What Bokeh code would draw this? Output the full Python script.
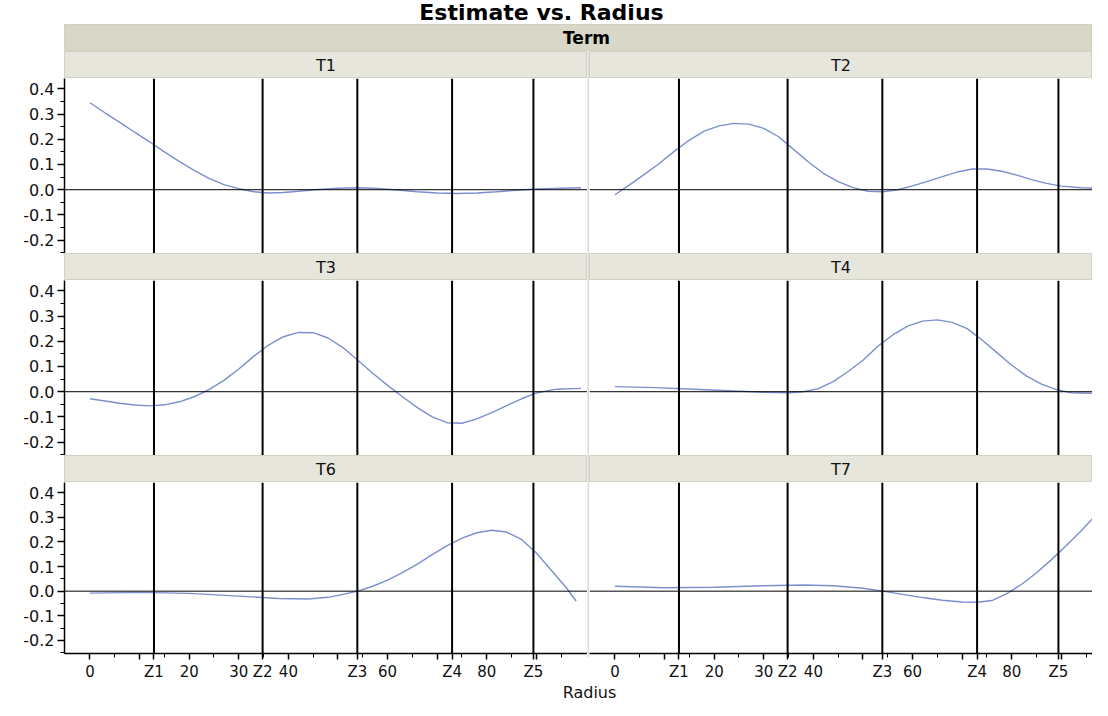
from bokeh.plotting import figure
from bokeh.models import Range1d, Span, FixedTicker, PrintfTickFormatter
from bokeh.layouts import column, row
from bokeh.core.properties import value
from bokeh.embed import file_html
from bokeh.resources import INLINE

TITLE = "Estimate vs. Radius"
GROUP = "Term"
X_LABEL = "Radius"

Z_NAMES = ["Z1", "Z2", "Z3", "Z4", "Z5"]
Z_POS = [12.9, 34.8, 53.9, 73.0, 89.4]

X_MAJOR = [0, 10, 20, 30, 40, 50, 60, 70, 80, 90]
X_MAJOR_LABELS = ["0", "", "20", "30", "40", "", "60", "", "80", ""]
X_MINOR = [5, 15, 25, 35, 45, 55, 65, 75, 85, 95]
Y_TICKS = [-0.2, -0.1, 0.0, 0.1, 0.2, 0.3, 0.4]
Y_MINOR = [-0.25, -0.15, -0.05, 0.05, 0.15, 0.25, 0.35]

T1_X = [0, 3, 6, 9, 12, 15, 18, 21, 24, 27, 30, 33, 36, 39, 42, 46, 50, 54, 58, 62, 66, 70,
        74, 78, 82, 86, 90, 95, 99]
T1_Y = [0.345, 0.305, 0.267, 0.228, 0.19, 0.15, 0.112, 0.077, 0.045, 0.02, 0.004, -0.008,
        -0.013, -0.011, -0.006, 0.001, 0.006, 0.008, 0.005, -0.001, -0.008, -0.013, -0.015,
        -0.013, -0.008, -0.002, 0.003, 0.006, 0.008]

T2_X = [0, 3, 6, 9, 12, 15, 18, 21, 24, 27, 30, 33, 36, 39, 42, 45, 48, 51, 54, 57, 60, 63,
        66, 69, 72, 75, 78, 81, 84, 87, 90, 94, 99]
T2_Y = [-0.02, 0.02, 0.062, 0.105, 0.153, 0.197, 0.232, 0.253, 0.263, 0.26, 0.243, 0.21,
        0.16, 0.11, 0.065, 0.032, 0.008, -0.006, -0.008, 0.0, 0.015, 0.033, 0.052, 0.07,
        0.082, 0.082, 0.073, 0.058, 0.04, 0.025, 0.014, 0.008, 0.005]

T3_X = [0, 3, 6, 9, 12, 15, 18, 21, 24, 27, 30, 33, 36, 39, 42, 45, 48, 51, 54, 57, 60, 63,
        66, 69, 72, 75, 78, 81, 84, 87, 90, 94, 99]
T3_Y = [-0.028, -0.037, -0.046, -0.053, -0.056, -0.052, -0.04, -0.02, 0.008, 0.045, 0.09,
        0.14, 0.185, 0.218, 0.235, 0.234, 0.213, 0.175, 0.125, 0.073, 0.025, -0.02, -0.063,
        -0.1, -0.123, -0.125, -0.108, -0.083, -0.055, -0.028, -0.005, 0.01, 0.013]

T4_X = [0, 8, 16, 24, 30, 35, 38, 41, 44, 47, 50, 53, 56, 59, 62, 65, 68, 71, 74, 77, 80, 83,
        86, 89, 92, 96, 99]
T4_Y = [0.02, 0.016, 0.01, 0.003, -0.002, -0.004, 0.0, 0.012, 0.04, 0.08, 0.125, 0.18, 0.225,
        0.26, 0.28, 0.285, 0.275, 0.25, 0.205, 0.155, 0.105, 0.062, 0.03, 0.008, -0.004,
        -0.006, -0.003]

T6_X = [0, 10, 20, 30, 38, 44, 48, 51, 54, 57, 60, 63, 66, 69, 72, 75, 78, 81, 84, 87, 90,
        93, 96, 98]
T6_Y = [-0.008, -0.005, -0.009, -0.02, -0.03, -0.032, -0.025, -0.013, 0.0, 0.02, 0.045, 0.075,
        0.11, 0.148, 0.185, 0.215, 0.237, 0.247, 0.24, 0.21, 0.155, 0.085, 0.015, -0.04]

T7_X = [0, 10, 20, 30, 38, 44, 50, 54, 58, 62, 66, 70, 73, 76, 79, 82, 85, 88, 91, 94, 97, 99]
T7_Y = [0.02, 0.014, 0.016, 0.022, 0.025, 0.022, 0.012, 0.0, -0.013, -0.026, -0.037, -0.044,
        -0.045, -0.038, -0.01, 0.028, 0.075, 0.128, 0.185, 0.245, 0.31, 0.355]

PANELS = [("T1", T1_X, T1_Y), ("T2", T2_X, T2_Y),
          ("T3", T3_X, T3_Y), ("T4", T4_X, T4_Y),
          ("T6", T6_X, T6_Y), ("T7", T7_X, T7_Y)]

# ---- styling / geometry ----
FONT = "DejaVu Sans"
CURVE = "#7b8fce"
BAND = "#d9d7c8"
HDR = "#e6e6dd"
HDR_EDGE = "#d3d1c2"
SEP = "#dcdcdc"
AXIS_W = 64
LEFT_W, RIGHT_W, SEP_W = 587, 503, 2
TOTAL_W = LEFT_W + SEP_W + RIGHT_W
PPU = 4.96
X0 = -5.14
Y_RANGE = (-0.253, 0.441)
PLOT_H, HDR_H, XAX_H = 175, 27, 26


def blank(width, height, bg, left=0, outline=None):
    f = figure(width=width, height=height, x_range=Range1d(0, 1), y_range=Range1d(0, 1),
               x_axis_location=None, y_axis_location=None, toolbar_location=None,
               output_backend="svg", min_border=0, min_border_left=left,
               background_fill_color=bg, border_fill_color="white",
               outline_line_color=outline)
    f.grid.visible = False
    return f


def header(text, width, left):
    h = blank(width, HDR_H, HDR, left, HDR_EDGE)
    h.text(x=[0.5], y=[0.5], text=[text], text_align="center", text_baseline="middle",
           text_font=value(FONT), text_font_size="16px", text_color="#111111")
    return h


def panel(xs, ys, width, left, bottom):
    frame_w = width - (AXIS_W if left else 0)
    xr = Range1d(X0, X0 + frame_w / PPU)
    p = figure(width=width, height=PLOT_H + (XAX_H if bottom else 0),
               x_range=xr, y_range=Range1d(*Y_RANGE),
               x_axis_location="below" if bottom else None,
               y_axis_location="left" if left else None,
               toolbar_location=None, output_backend="svg",
               min_border=0, min_border_left=AXIS_W if left else 0,
               min_border_bottom=XAX_H if bottom else 0)
    p.grid.visible = False
    p.outline_line_color = None
    p.add_layout(Span(location=0, dimension="width", line_color="black", line_width=1))
    for z in Z_POS:
        p.add_layout(Span(location=z, dimension="height", line_color="black", line_width=2))
    p.line(xs, ys, line_color=CURVE, line_width=1.4)
    if left:
        ax = p.yaxis[0]
        ax.ticker = FixedTicker(ticks=Y_TICKS, minor_ticks=Y_MINOR)
        ax.formatter = PrintfTickFormatter(format="%.1f")
        ax.major_tick_in = 0
        ax.major_tick_out = 7
        ax.minor_tick_in = 0
        ax.minor_tick_out = 4
        ax.axis_line_width = 1.5
        ax.major_tick_line_width = 1.5
        ax.major_label_standoff = 3
        ax.major_label_text_font = FONT
        ax.major_label_text_font_size = "16px"
        ax.major_label_text_color = "#111111"
    if bottom:
        ax = p.xaxis[0]
        ax.ticker = FixedTicker(ticks=X_MAJOR + Z_POS, minor_ticks=X_MINOR)
        overrides = dict(zip(X_MAJOR, X_MAJOR_LABELS))
        overrides.update(dict(zip(Z_POS, Z_NAMES)))
        ax.major_label_overrides = overrides
        ax.major_tick_in = 0
        ax.major_tick_out = 6
        ax.minor_tick_in = 0
        ax.minor_tick_out = 4
        ax.axis_line_width = 1.5
        ax.major_tick_line_width = 1.5
        ax.major_label_standoff = 3
        ax.major_label_text_font = FONT
        ax.major_label_text_font_size = "15px"
        ax.major_label_text_color = "#111111"
    return p


left_items, right_items = [], []
for i, (name, xs, ys) in enumerate(PANELS):
    is_left = i % 2 == 0
    is_bottom = i >= 4
    w = LEFT_W if is_left else RIGHT_W
    items = left_items if is_left else right_items
    items.append(header(name, w, AXIS_W if is_left else 0))
    items.append(panel(xs, ys, w, is_left, is_bottom))

sep = blank(SEP_W, 3 * (HDR_H + PLOT_H), SEP)

title_fig = blank(TOTAL_W, 24, "white", AXIS_W)
title_fig.text(x=[0.5], y=[0.5], text=[TITLE], text_align="center", text_baseline="middle",
               x_offset=-37, text_font=value(FONT), text_font_style="bold",
               text_font_size="22px", text_color="black")

band = blank(TOTAL_W, 27, BAND, AXIS_W, HDR_EDGE)
band.text(x=[0.5], y=[0.5], text=[GROUP], text_align="center", text_baseline="middle",
          x_offset=8, text_font=value(FONT), text_font_style="bold",
          text_font_size="17px", text_color="black")

radius_fig = blank(TOTAL_W, 18, "white", AXIS_W)
radius_fig.text(x=[0.5], y=[0.5], text=[X_LABEL], text_align="center", text_baseline="middle",
                x_offset=11, text_font=value(FONT), text_font_size="16px",
                text_color="#111111")

body = row(column(*left_items), sep, column(*right_items))
page = column(title_fig, band, body, radius_fig)

open("out.html", "w").write(file_html(page, INLINE))
